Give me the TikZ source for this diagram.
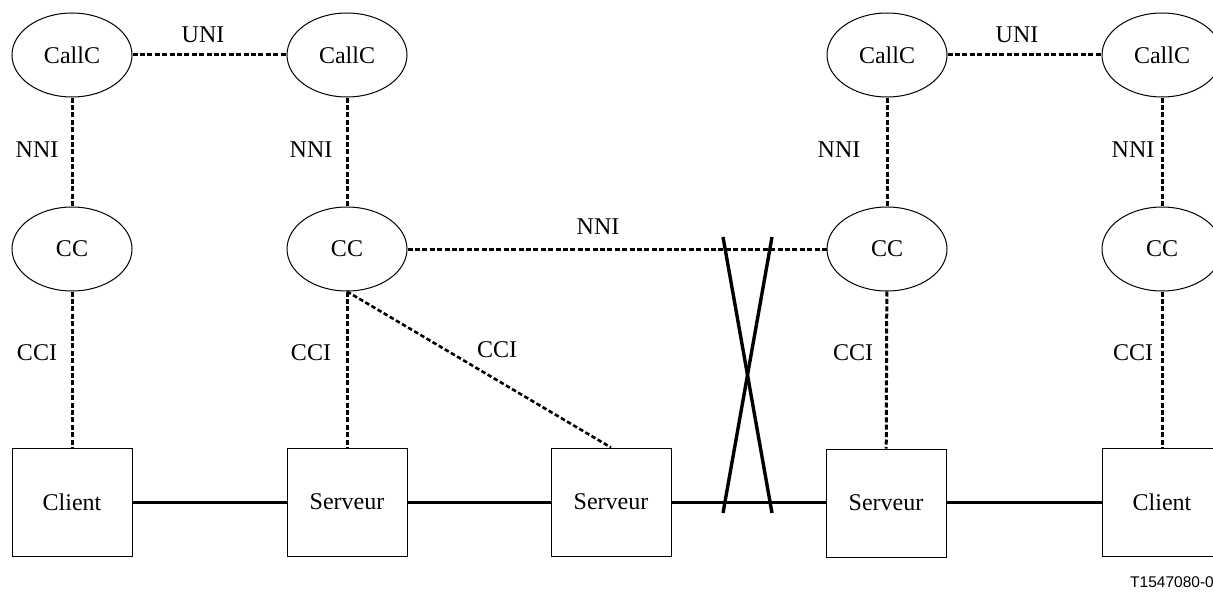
\documentclass[tikz,border=0pt]{standalone}
\usepackage{fontspec}
\setmainfont{Liberation Serif}
\newfontfamily\labsans{Liberation Sans}
\usetikzlibrary{shapes.geometric}
\begin{document}
\begin{tikzpicture}[x=1pt,y=-1pt,
  every node/.style={font=\fontsize{24}{28}\selectfont},
  ell/.style={draw,ellipse,line width=1pt,minimum width=120pt,minimum height=84pt,inner sep=0pt},
  box/.style={draw,rectangle,line width=1pt,minimum width=120pt,minimum height=108pt,inner sep=0pt},
  dsh/.style={line width=3pt,dash pattern=on 5pt off 2.4pt},
  dshthin/.style={line width=2.6pt,dash pattern=on 4.5pt off 2.6pt},
  sol/.style={line width=3pt},
  crossline/.style={line width=3.4pt},
  lab/.style={inner sep=0pt}]
\useasboundingbox (0,0) rectangle (1213,594);
\clip (0,0) rectangle (1213,594);
% CallC row
\node[ell] (callc1) at (72,55) {CallC};
\node[ell] (callc2) at (347,55) {CallC};
\node[ell] (callc3) at (887,55) {CallC};
\node[ell] (callc4) at (1162,55) {CallC};
% CC row
\node[ell] (cc1) at (72,249) {CC};
\node[ell] (cc2) at (347,249) {CC};
\node[ell] (cc3) at (887,249) {CC};
\node[ell] (cc4) at (1162,249) {CC};
% bottom row
\node[box] (client1) at (72,502) {Client};
\node[box] (serv1) at (347,502) {Serveur};
\node[box] (serv2) at (611,502) {Serveur};
\node[box] (serv3) at (886,503) {Serveur};
\node[box] (client2) at (1162,502) {Client};
% dashed connectors
\draw[dsh] (callc1) -- (callc2);
\draw[dsh] (callc3) -- (callc4);
\draw[dsh] (callc1) -- (cc1);
\draw[dsh] (callc2) -- (cc2);
\draw[dsh] (callc3) -- (cc3);
\draw[dsh] (callc4) -- (cc4);
\draw[dsh] (cc1) -- (client1);
\draw[dsh] (cc2) -- (serv1);
\draw[dsh] (cc3) -- (serv3);
\draw[dsh] (cc4) -- (client2);
\draw[dsh] (cc2) -- (cc3);
\draw[dshthin] (cc2.south) -- (serv2.north);
% solid connectors
\draw[sol] (client1) -- (serv1);
\draw[sol] (serv1) -- (serv2);
\draw[sol] (serv2.east) -- (serv3.west |- serv2.east);
\draw[sol] (client2.west) -- (client2.west -| serv3.east);
% cross
\coordinate (xa1) at (723,237);
\coordinate (xb1) at (772,513);
\coordinate (xa2) at (772,237);
\coordinate (xb2) at (723,513);
\draw[crossline] (xa1) -- (xb1);
\draw[crossline] (xa2) -- (xb2);
% labels
\node[lab] (uni1) at (203,35) {UNI};
\node[lab] (uni2) at (1017,35) {UNI};
\node[lab] (nni1) at (37,150) {NNI};
\node[lab] (nni2) at (311,150) {NNI};
\node[lab] (nni3) at (839,150) {NNI};
\node[lab] (nni4) at (1133,150) {NNI};
\node[lab] (nni5) at (598,227) {NNI};
\node[lab] (cci1) at (37,353) {CCI};
\node[lab] (cci2) at (311,353) {CCI};
\node[lab] (cci3) at (497,350) {CCI};
\node[lab] (cci4) at (853,353) {CCI};
\node[lab] (cci5) at (1133,353) {CCI};
\node[lab,anchor=east,font=\labsans\fontsize{15.5}{18}\selectfont] (ref) at (1214,582) {T1547080-0};
\end{tikzpicture}
\end{document}
